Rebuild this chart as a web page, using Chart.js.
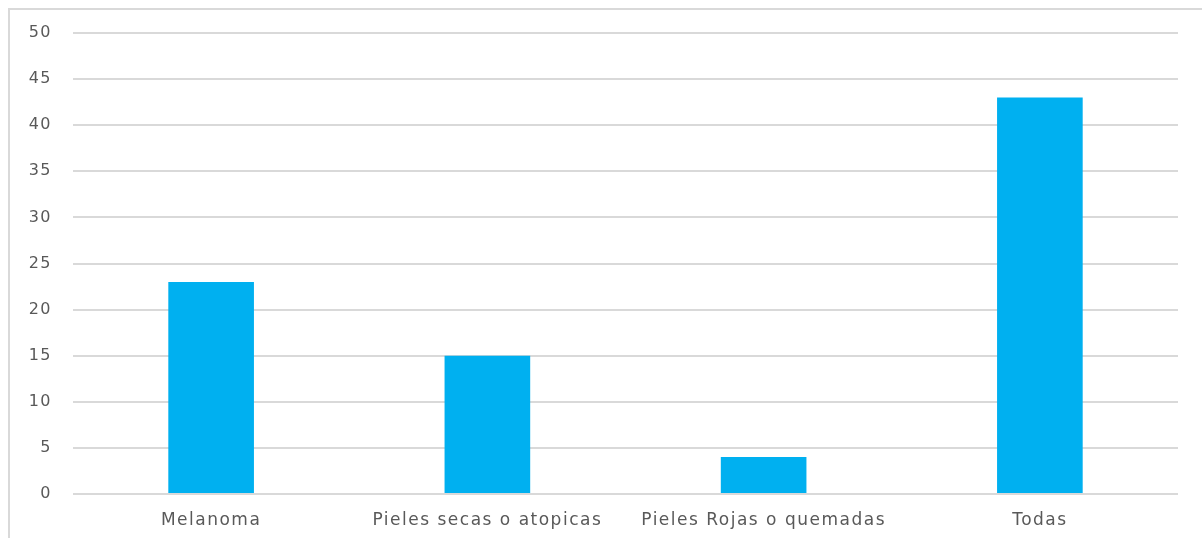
<!DOCTYPE html>
<html>
<head>
<meta charset="utf-8">
<script src="https://cdn.jsdelivr.net/npm/chart.js@4/dist/chart.umd.min.js"></script>
<style>
  html, body { margin: 0; padding: 0; background: #fff; }
  #box {
    position: absolute; left: 8px; top: 8px; width: 1192px; height: 528px;
    border-top: 2px solid #d9d9d9; border-left: 2px solid #d9d9d9;
  }
</style>
</head>
<body>
<div id="box"><canvas id="mycanvas" width="1192" height="528"></canvas></div>
<script>
var categories = ["Melanoma", "Pieles secas o atopicas", "Pieles Rojas o quemadas", "Todas"];
var values = [23, 15, 4, 43];
var yTicks = [0, 5, 10, 15, 20, 25, 30, 35, 40, 45, 50];

var fontFamily = "'DejaVu Sans', sans-serif";

// the source text is a bit stretched, so space the letters out a little
var spacing = {
    id: 'spacing',
    beforeDraw: function(chart) { chart.ctx.letterSpacing = "1.5px"; },
    afterDraw: function(chart) { chart.ctx.letterSpacing = "0px"; }
};

var chartdata = {
    labels: categories,
    datasets: [{
        label: "Serie 1",
        backgroundColor: "#00b0f0",
        borderWidth: 0,
        categoryPercentage: 1,
        barPercentage: 0.31,
        data: values
    }]
};

var ctx = document.getElementById("mycanvas");

var chart = new Chart(ctx, {
    type: 'bar',
    data: chartdata,
    plugins: [spacing],
    options: {
        responsive: false,
        animation: false,
        layout: { padding: { left: 0, top: 23, right: 24, bottom: 0 } },
        plugins: { legend: { display: false }, tooltip: { enabled: false } },
        scales: {
            x: {
                grid: { display: false },
                border: { display: false },
                ticks: { color: "#595959", font: { family: fontFamily, size: 17 }, padding: 8, maxRotation: 0 },
                afterFit: function(axis) { axis.height = 44; }
            },
            y: {
                min: yTicks[0],
                max: yTicks[yTicks.length - 1],
                afterBuildTicks: function(axis) {
                    axis.ticks = yTicks.map(function(v) { return { value: v }; });
                },
                grid: { color: "#d9d9d9", lineWidth: 2, drawTicks: false },
                border: { display: false },
                ticks: { color: "#595959", font: { family: fontFamily, size: 16 }, padding: 21 },
                afterFit: function(axis) {
                    axis.width = 63;
                    axis.paddingTop = 0;
                    axis.paddingBottom = 0;
                }
            }
        }
    }
});
</script>
</body>
</html>
